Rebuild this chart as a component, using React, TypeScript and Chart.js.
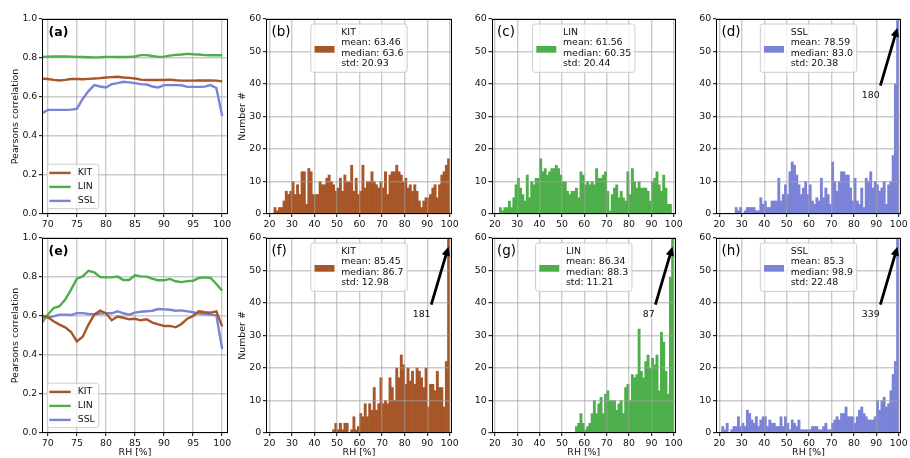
import React, { useEffect, useRef } from "react";
import { Chart, registerables } from "chart.js";

Chart.register(...registerables);

// ---------- data ----------
// RH sampling points of the correlation curves
const RH_POINTS = [69, 70, 71, 72, 73, 74, 75, 76, 77, 78, 79, 80, 81, 82, 83, 84, 85, 86, 87, 88, 89, 90, 91, 92, 93, 94, 95, 96, 97, 98, 99, 100];

// Pearson correlation, upper row
const CORR_UP_KIT = [0.694, 0.692, 0.688, 0.685, 0.688, 0.692, 0.692, 0.691, 0.693, 0.695, 0.697, 0.700, 0.702, 0.704, 0.700, 0.698, 0.695, 0.689, 0.687, 0.687, 0.687, 0.687, 0.689, 0.686, 0.684, 0.684, 0.684, 0.685, 0.685, 0.685, 0.684, 0.680];
const CORR_UP_LIN = [0.806, 0.807, 0.808, 0.808, 0.808, 0.807, 0.806, 0.805, 0.804, 0.803, 0.804, 0.806, 0.806, 0.805, 0.805, 0.806, 0.808, 0.815, 0.815, 0.810, 0.806, 0.807, 0.812, 0.816, 0.818, 0.821, 0.819, 0.818, 0.815, 0.814, 0.814, 0.814];
const CORR_UP_SSL = [0.517, 0.534, 0.534, 0.534, 0.534, 0.535, 0.539, 0.590, 0.630, 0.661, 0.654, 0.649, 0.666, 0.671, 0.678, 0.675, 0.671, 0.666, 0.664, 0.654, 0.649, 0.661, 0.661, 0.661, 0.660, 0.652, 0.652, 0.652, 0.653, 0.661, 0.646, 0.503];

// Pearson correlation, lower row
const CORR_LOW_KIT = [0.603, 0.593, 0.573, 0.556, 0.542, 0.518, 0.470, 0.494, 0.556, 0.607, 0.627, 0.614, 0.578, 0.597, 0.591, 0.583, 0.586, 0.578, 0.583, 0.566, 0.557, 0.549, 0.549, 0.542, 0.559, 0.586, 0.600, 0.624, 0.619, 0.617, 0.624, 0.547];
const CORR_LOW_LIN = [0.567, 0.607, 0.641, 0.650, 0.684, 0.735, 0.791, 0.803, 0.832, 0.824, 0.800, 0.798, 0.798, 0.802, 0.785, 0.785, 0.809, 0.803, 0.802, 0.791, 0.783, 0.783, 0.790, 0.778, 0.774, 0.779, 0.781, 0.795, 0.798, 0.795, 0.764, 0.730];
const CORR_LOW_SSL = [0.595, 0.593, 0.598, 0.607, 0.607, 0.605, 0.615, 0.615, 0.610, 0.609, 0.612, 0.614, 0.614, 0.624, 0.614, 0.607, 0.617, 0.622, 0.624, 0.627, 0.636, 0.634, 0.632, 0.627, 0.629, 0.624, 0.619, 0.612, 0.610, 0.607, 0.603, 0.431];

// Left edges of the 1 %-wide RH bins
const BIN_LEFT = [
  20, 21, 22, 23, 24, 25, 26, 27, 28, 29, 30, 31, 32, 33, 34, 35, 36, 37, 38, 39,
  40, 41, 42, 43, 44, 45, 46, 47, 48, 49, 50, 51, 52, 53, 54, 55, 56, 57, 58, 59,
  60, 61, 62, 63, 64, 65, 66, 67, 68, 69, 70, 71, 72, 73, 74, 75, 76, 77, 78, 79,
  80, 81, 82, 83, 84, 85, 86, 87, 88, 89, 90, 91, 92, 93, 94, 95, 96, 97, 98, 99,
];

// Counts per bin, upper row
const HIST_UP_KIT = [
  0, 0, 2, 1, 2, 2, 4, 7, 6, 7, 10, 6, 9, 6, 13, 13, 3, 14, 13, 6,
  6, 6, 10, 9, 9, 11, 12, 10, 9, 7, 8, 11, 7, 12, 10, 10, 15, 7, 11, 6,
  7, 15, 8, 10, 10, 13, 10, 9, 8, 10, 8, 13, 6, 12, 13, 13, 15, 13, 12, 10,
  11, 8, 9, 7, 9, 7, 4, 2, 4, 5, 5, 6, 8, 9, 5, 9, 12, 13, 15, 17,
];
const HIST_UP_LIN = [
  0, 0, 2, 1, 2, 2, 4, 2, 5, 9, 11, 8, 6, 4, 12, 5, 10, 9, 11, 11,
  17, 13, 14, 12, 13, 14, 14, 15, 14, 12, 10, 10, 7, 6, 7, 7, 8, 5, 13, 12,
  9, 10, 9, 10, 9, 14, 11, 11, 12, 13, 7, 1, 6, 8, 9, 5, 7, 5, 4, 13,
  6, 14, 10, 8, 10, 8, 8, 8, 7, 4, 10, 11, 13, 9, 7, 12, 8, 3, 3, 0,
];
const HIST_UP_SSL = [
  0, 0, 0, 0, 0, 0, 0, 2, 1, 2, 0, 1, 2, 2, 2, 2, 1, 1, 5, 3,
  4, 2, 2, 4, 4, 4, 11, 4, 6, 9, 6, 13, 16, 15, 12, 9, 6, 8, 10, 6,
  9, 4, 3, 5, 4, 11, 5, 8, 6, 3, 16, 10, 7, 10, 13, 13, 12, 12, 8, 4,
  11, 4, 3, 8, 2, 11, 10, 13, 8, 10, 9, 7, 8, 10, 3, 9, 10, 18, 40, 180,
];

// Counts per bin, lower row
const HIST_LOW_KIT = [
  0, 0, 0, 0, 0, 0, 0, 0, 0, 0, 0, 0, 0, 0, 0, 0, 0, 0, 0, 0,
  0, 0, 0, 0, 0, 0, 0, 0, 1, 3, 1, 3, 1, 3, 3, 0, 1, 5, 1, 2,
  6, 5, 9, 5, 9, 7, 14, 7, 9, 17, 9, 10, 9, 17, 14, 10, 20, 17, 24, 21,
  15, 20, 16, 19, 15, 20, 19, 17, 14, 20, 8, 15, 15, 13, 19, 14, 14, 8, 22, 181,
];
const HIST_LOW_LIN = [
  0, 0, 0, 0, 0, 0, 0, 0, 0, 0, 0, 0, 0, 0, 0, 0, 0, 0, 0, 0,
  0, 0, 0, 0, 0, 0, 0, 0, 0, 0, 0, 0, 0, 0, 0, 0, 2, 3, 6, 3,
  1, 2, 3, 6, 10, 6, 9, 11, 6, 12, 13, 10, 10, 10, 7, 9, 10, 6, 14, 15,
  10, 18, 17, 18, 32, 19, 17, 22, 24, 20, 23, 21, 24, 13, 31, 28, 19, 12, 48, 87,
];
const HIST_LOW_SSL = [
  0, 2, 1, 3, 0, 1, 2, 2, 5, 2, 3, 2, 7, 6, 4, 3, 5, 2, 4, 5,
  5, 2, 4, 3, 3, 2, 2, 5, 2, 5, 3, 1, 4, 3, 2, 4, 1, 1, 1, 1,
  1, 2, 2, 2, 1, 1, 2, 3, 1, 1, 3, 4, 5, 4, 6, 6, 8, 5, 5, 5,
  3, 5, 7, 8, 6, 5, 4, 4, 4, 5, 10, 7, 10, 11, 8, 9, 13, 18, 22, 339,
];

// Legend texts of the histograms
const STATS_UP_KIT = ["KIT", "mean: 63.46", "median: 63.6", "std: 20.93"];
const STATS_UP_LIN = ["LIN", "mean: 61.56", "median: 60.35", "std: 20.44"];
const STATS_UP_SSL = ["SSL", "mean: 78.59", "median: 83.0", "std: 20.38"];
const STATS_LOW_KIT = ["KIT", "mean: 85.45", "median: 86.7", "std: 12.98"];
const STATS_LOW_LIN = ["LIN", "mean: 86.34", "median: 88.3", "std: 11.21"];
const STATS_LOW_SSL = ["SSL", "mean: 85.3", "median: 98.9", "std: 22.48"];

// Tick values
const CORR_X_TICKS = [70, 75, 80, 85, 90, 95, 100];
const CORR_Y_TICKS = [0, 0.2, 0.4, 0.6, 0.8, 1.0];
const HIST_X_TICKS = [20, 30, 40, 50, 60, 70, 80, 90, 100];
const HIST_Y_TICKS = [0, 10, 20, 30, 40, 50, 60];

// ---------- styling / layout ----------
const FIG_W = 910;
const FIG_H = 458;
const FONT = "'DejaVu Sans', 'Liberation Sans', sans-serif";
const TXT = 9.4;
const GRID_COLOR = "rgba(160,160,160,0.55)";
const Y_AXIS_W = 40;
const X_AXIS_H = 24;

const KIT_COLOR = "#a65628";
const LIN_COLOR = "#4daf4a";
const SSL_COLOR = "#7b83d8";

const CORR_X_RANGE = [69, 101];
const HIST_X_RANGE = [18.5, 101];
const HIST_Y_MAX = 60;

type Rect = { L: number; T: number; R: number; B: number };

const ROWS = [
  { T: 19, B: 214 },
  { T: 238, B: 433 },
];
const CORR_COL = { L: 42, R: 228 };
const HIST_COLS = [
  { L: 266, R: 452 },
  { L: 491.5, R: 676 },
  { L: 716, R: 901 },
];

function layoutFor(r: Rect) {
  return {
    padding: {
      left: r.L - Y_AXIS_W,
      top: r.T,
      right: FIG_W - r.R,
      bottom: FIG_H - r.B - X_AXIS_H,
    },
  };
}

function linearAxis(
  min: number,
  max: number,
  ticks: number[],
  fmt: (v: number) => string,
  horizontal: boolean,
  gridOnTop: boolean
) {
  return {
    type: "linear",
    min,
    max,
    offset: false,
    afterBuildTicks: (s: any) => {
      s.ticks = ticks.map((v) => ({ value: v }));
    },
    afterFit: (s: any) => {
      if (horizontal) {
        s.height = X_AXIS_H;
        s.paddingLeft = 0;
        s.paddingRight = 0;
      } else {
        s.width = Y_AXIS_W;
        s.paddingTop = 0;
        s.paddingBottom = 0;
      }
    },
    grid: {
      color: GRID_COLOR,
      lineWidth: 1.4,
      offset: false,
      z: gridOnTop ? 1 : -1,
      drawTicks: true,
      tickLength: 3,
      tickColor: "#000",
      tickWidth: 1,
    },
    border: { display: false },
    ticks: {
      font: { family: FONT, size: TXT },
      color: "#111",
      padding: horizontal ? 1.5 : 1.7,
      maxRotation: 0,
      minRotation: 0,
      autoSkip: false,
      callback: (v: any) => fmt(Number(v)),
    },
  };
}

function roundRect(ctx: CanvasRenderingContext2D, x: number, y: number, w: number, h: number, r: number) {
  ctx.beginPath();
  ctx.moveTo(x + r, y);
  ctx.arcTo(x + w, y, x + w, y + h, r);
  ctx.arcTo(x + w, y + h, x, y + h, r);
  ctx.arcTo(x, y + h, x, y, r);
  ctx.arcTo(x, y, x + w, y, r);
  ctx.closePath();
}

function drawFrame(ctx: CanvasRenderingContext2D, a: any) {
  const l = Math.round(a.left) + 0.5;
  const t = Math.round(a.top) + 0.5;
  const r = Math.round(a.right) - 0.5;
  const b = Math.round(a.bottom) - 0.5;
  ctx.strokeStyle = "#000";
  ctx.lineWidth = 1;
  ctx.strokeRect(l, t, r - l, b - t);
}

function drawLegendBox(ctx: CanvasRenderingContext2D, x: number, y: number, w: number, h: number) {
  roundRect(ctx, x, y, w, h, 2.5);
  ctx.fillStyle = "rgba(255,255,255,0.8)";
  ctx.fill();
  ctx.strokeStyle = "#cccccc";
  ctx.lineWidth = 1;
  ctx.stroke();
}

function drawAxisTitles(ctx: CanvasRenderingContext2D, a: any, yTitle: string, yOffset: number, xTitle: string | null) {
  ctx.fillStyle = "#111";
  ctx.font = `${TXT}px ${FONT}`;
  ctx.textAlign = "center";
  ctx.textBaseline = "middle";
  ctx.save();
  ctx.translate(a.left - yOffset, (a.top + a.bottom) / 2);
  ctx.rotate(-Math.PI / 2);
  ctx.fillText(yTitle, 0, 0);
  ctx.restore();
  if (xTitle) {
    ctx.fillText(xTitle, (a.left + a.right) / 2, a.bottom + 19.5);
  }
}

function drawArrow(ctx: CanvasRenderingContext2D, x0: number, y0: number, x1: number, y1: number) {
  const dx = x1 - x0;
  const dy = y1 - y0;
  const len = Math.hypot(dx, dy);
  const ux = dx / len;
  const uy = dy / len;
  const nx = -uy;
  const ny = ux;
  const shaft = 1.4;
  const head = 4.2;
  const headLen = 9;
  const bx = x1 - ux * headLen;
  const by = y1 - uy * headLen;
  ctx.beginPath();
  ctx.moveTo(x0 + nx * shaft, y0 + ny * shaft);
  ctx.lineTo(bx + nx * shaft, by + ny * shaft);
  ctx.lineTo(bx + nx * head, by + ny * head);
  ctx.lineTo(x1, y1);
  ctx.lineTo(bx - nx * head, by - ny * head);
  ctx.lineTo(bx - nx * shaft, by - ny * shaft);
  ctx.lineTo(x0 - nx * shaft, y0 - ny * shaft);
  ctx.closePath();
  ctx.fillStyle = "#000";
  ctx.fill();
}

type Series = { name: string; color: string; values: number[] };

function corrConfig(tag: string, rect: Rect, series: Series[], showXTitle: boolean) {
  const overlay = {
    id: "corrOverlay",
    afterDraw(chart: any) {
      const { ctx, chartArea: a } = chart;
      ctx.save();
      drawFrame(ctx, a);
      // panel tag
      ctx.fillStyle = "#000";
      ctx.font = `bold 12.5px ${FONT}`;
      ctx.textAlign = "left";
      ctx.textBaseline = "alphabetic";
      ctx.fillText(tag, a.left + 6.5, a.top + 16.5);
      // legend, lower left
      const bw = 51.5;
      const bh = 44.5;
      const bx = a.left + 5.3;
      const by = a.bottom - 5.3 - bh;
      drawLegendBox(ctx, bx, by, bw, bh);
      ctx.font = `${TXT}px ${FONT}`;
      ctx.textBaseline = "middle";
      series.forEach((s, i) => {
        const yy = by + 8.7 + i * 14;
        ctx.strokeStyle = s.color;
        ctx.lineWidth = 2.4;
        ctx.beginPath();
        ctx.moveTo(bx + 2, yy);
        ctx.lineTo(bx + 23.4, yy);
        ctx.stroke();
        ctx.fillStyle = "#111";
        ctx.fillText(s.name, bx + 30.4, yy);
      });
      drawAxisTitles(ctx, a, "Pearsons correlation", 26.7, showXTitle ? "RH [%]" : null);
      ctx.restore();
    },
  };
  return {
    type: "line",
    data: {
      datasets: series.map((s) => ({
        label: s.name,
        data: RH_POINTS.map((x, i) => ({ x, y: s.values[i] })),
        borderColor: s.color,
        borderWidth: 2.4,
        pointRadius: 0,
        fill: false,
        tension: 0,
      })),
    },
    options: {
      animation: false,
      responsive: false,
      devicePixelRatio: 1,
      events: [],
      layout: layoutFor(rect),
      plugins: { legend: { display: false }, tooltip: { enabled: false } },
      scales: {
        x: linearAxis(CORR_X_RANGE[0], CORR_X_RANGE[1], CORR_X_TICKS, (v) => String(v), true, false),
        y: linearAxis(0, 1, CORR_Y_TICKS, (v) => v.toFixed(1), false, false),
      },
    },
    plugins: [overlay],
  };
}

function histConfig(
  tag: string,
  rect: Rect,
  values: number[],
  color: string,
  stats: string[],
  showYTitle: boolean,
  showXTitle: boolean
) {
  // one bin is one RH unit wide; bar thickness follows the axis scale
  const pxPerUnit = (rect.R - rect.L) / (HIST_X_RANGE[1] - HIST_X_RANGE[0]);
  const overlay = {
    id: "histOverlay",
    afterDraw(chart: any) {
      const { ctx, chartArea: a, scales } = chart;
      const xs = scales.x;
      const ys = scales.y;
      ctx.save();
      drawFrame(ctx, a);
      // panel tag
      ctx.fillStyle = "#000";
      ctx.font = `13.5px ${FONT}`;
      ctx.textAlign = "left";
      ctx.textBaseline = "alphabetic";
      ctx.fillText(tag, a.left + 5.5, a.top + 16.5);
      // legend, upper centre
      ctx.font = `${TXT}px ${FONT}`;
      const tw = Math.max(...stats.map((s) => ctx.measureText(s).width));
      const bw = 30.4 + tw + 3.8;
      const bh = 48.3;
      const bx = (a.left + a.right) / 2 - bw / 2;
      const by = a.top + 5;
      drawLegendBox(ctx, bx, by, bw, bh);
      ctx.fillStyle = color;
      ctx.fillRect(bx + 3.7, by + 22, 20, 6.7);
      ctx.fillStyle = "#111";
      ctx.textBaseline = "middle";
      stats.forEach((s, i) => ctx.fillText(s, bx + 30.4, by + 8.3 + i * 10.47));
      // count of the clipped last bin
      const last = values[values.length - 1];
      if (last > HIST_Y_MAX) {
        drawArrow(
          ctx,
          xs.getPixelForValue(91.8),
          ys.getPixelForValue(39.5),
          xs.getPixelForValue(99.4),
          ys.getPixelForValue(57.3)
        );
        ctx.fillStyle = "#111";
        ctx.textAlign = "right";
        ctx.textBaseline = "alphabetic";
        ctx.fillText(String(last), xs.getPixelForValue(91.5), ys.getPixelForValue(35.7));
      }
      if (showYTitle || showXTitle) {
        drawAxisTitles(ctx, a, showYTitle ? "Number #" : "", 23, showXTitle ? "RH [%]" : null);
      }
      ctx.restore();
    },
  };
  return {
    type: "bar",
    data: {
      datasets: [
        {
          data: BIN_LEFT.map((b, i) => ({ x: b + 0.5, y: values[i] })),
          backgroundColor: color,
          borderWidth: 0,
          barThickness: pxPerUnit,
          barPercentage: 1,
          categoryPercentage: 1,
          grouped: false,
        },
      ],
    },
    options: {
      animation: false,
      responsive: false,
      devicePixelRatio: 1,
      events: [],
      layout: layoutFor(rect),
      plugins: { legend: { display: false }, tooltip: { enabled: false } },
      scales: {
        x: linearAxis(HIST_X_RANGE[0], HIST_X_RANGE[1], HIST_X_TICKS, (v) => String(v), true, true),
        y: linearAxis(0, HIST_Y_MAX, HIST_Y_TICKS, (v) => String(v), false, true),
      },
    },
    plugins: [overlay],
  };
}

const rect = (col: { L: number; R: number }, row: { T: number; B: number }): Rect => ({ L: col.L, R: col.R, T: row.T, B: row.B });

const PANELS: (() => any)[] = [
  () =>
    corrConfig("(a)", rect(CORR_COL, ROWS[0]), [
      { name: "KIT", color: KIT_COLOR, values: CORR_UP_KIT },
      { name: "LIN", color: LIN_COLOR, values: CORR_UP_LIN },
      { name: "SSL", color: SSL_COLOR, values: CORR_UP_SSL },
    ], false),
  () => histConfig("(b)", rect(HIST_COLS[0], ROWS[0]), HIST_UP_KIT, KIT_COLOR, STATS_UP_KIT, true, false),
  () => histConfig("(c)", rect(HIST_COLS[1], ROWS[0]), HIST_UP_LIN, LIN_COLOR, STATS_UP_LIN, false, false),
  () => histConfig("(d)", rect(HIST_COLS[2], ROWS[0]), HIST_UP_SSL, SSL_COLOR, STATS_UP_SSL, false, false),
  () =>
    corrConfig("(e)", rect(CORR_COL, ROWS[1]), [
      { name: "KIT", color: KIT_COLOR, values: CORR_LOW_KIT },
      { name: "LIN", color: LIN_COLOR, values: CORR_LOW_LIN },
      { name: "SSL", color: SSL_COLOR, values: CORR_LOW_SSL },
    ], true),
  () => histConfig("(f)", rect(HIST_COLS[0], ROWS[1]), HIST_LOW_KIT, KIT_COLOR, STATS_LOW_KIT, true, true),
  () => histConfig("(g)", rect(HIST_COLS[1], ROWS[1]), HIST_LOW_LIN, LIN_COLOR, STATS_LOW_LIN, false, true),
  () => histConfig("(h)", rect(HIST_COLS[2], ROWS[1]), HIST_LOW_SSL, SSL_COLOR, STATS_LOW_SSL, false, true),
];

function ChartLayer({ make }: { make: () => any }) {
  const ref = useRef<HTMLCanvasElement>(null);
  useEffect(() => {
    const chart = new Chart(ref.current as HTMLCanvasElement, make());
    return () => chart.destroy();
  }, [make]);
  return (
    <canvas
      ref={ref}
      width={FIG_W}
      height={FIG_H}
      style={{ position: "absolute", left: 0, top: 0, width: FIG_W, height: FIG_H }}
    />
  );
}

export default function App() {
  return (
    <div
      style={{
        position: "absolute",
        left: 0,
        top: 0,
        width: FIG_W,
        height: FIG_H,
        background: "#fff",
        overflow: "hidden",
      }}
    >
      {PANELS.map((make, i) => (
        <ChartLayer key={i} make={make} />
      ))}
    </div>
  );
}
